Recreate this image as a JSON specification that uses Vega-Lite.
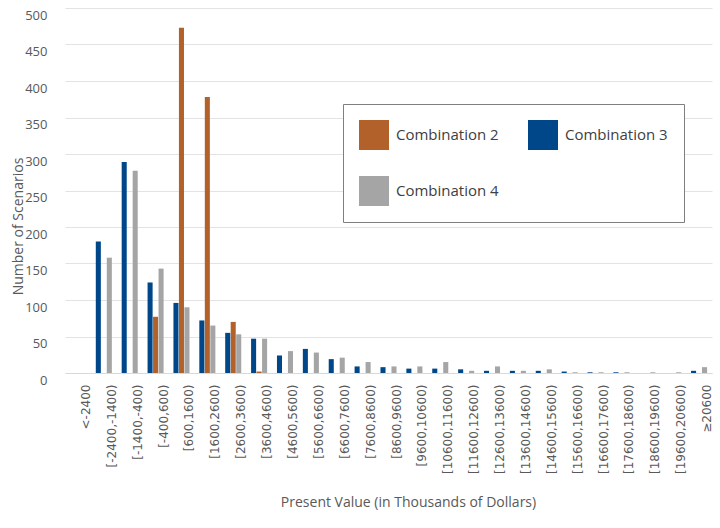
{
  "$schema": "https://vega.github.io/schema/vega-lite/v6.json",
  "width": 647,
  "height": 365,
  "autosize": "none",
  "padding": {"left": 65, "top": 8, "right": 8, "bottom": 155},
  "background": "white",
  "config": {"view": {"stroke": null}},
  "datasets": {
    "counts": [
      {"bin": "<-2400", "combo": "Combination 2", "count": 0},
      {"bin": "<-2400", "combo": "Combination 3", "count": 0},
      {"bin": "<-2400", "combo": "Combination 4", "count": 0},
      {"bin": "[-2400,-1400)", "combo": "Combination 2", "count": 0},
      {"bin": "[-2400,-1400)", "combo": "Combination 3", "count": 180},
      {"bin": "[-2400,-1400)", "combo": "Combination 4", "count": 158},
      {"bin": "[-1400,-400)", "combo": "Combination 2", "count": 0},
      {"bin": "[-1400,-400)", "combo": "Combination 3", "count": 289},
      {"bin": "[-1400,-400)", "combo": "Combination 4", "count": 277},
      {"bin": "[-400,600)", "combo": "Combination 2", "count": 77},
      {"bin": "[-400,600)", "combo": "Combination 3", "count": 124},
      {"bin": "[-400,600)", "combo": "Combination 4", "count": 143},
      {"bin": "[600,1600)", "combo": "Combination 2", "count": 473},
      {"bin": "[600,1600)", "combo": "Combination 3", "count": 96},
      {"bin": "[600,1600)", "combo": "Combination 4", "count": 90},
      {"bin": "[1600,2600)", "combo": "Combination 2", "count": 378},
      {"bin": "[1600,2600)", "combo": "Combination 3", "count": 72},
      {"bin": "[1600,2600)", "combo": "Combination 4", "count": 65},
      {"bin": "[2600,3600)", "combo": "Combination 2", "count": 70},
      {"bin": "[2600,3600)", "combo": "Combination 3", "count": 55},
      {"bin": "[2600,3600)", "combo": "Combination 4", "count": 53},
      {"bin": "[3600,4600)", "combo": "Combination 2", "count": 2},
      {"bin": "[3600,4600)", "combo": "Combination 3", "count": 47},
      {"bin": "[3600,4600)", "combo": "Combination 4", "count": 47},
      {"bin": "[4600,5600)", "combo": "Combination 2", "count": 0},
      {"bin": "[4600,5600)", "combo": "Combination 3", "count": 24},
      {"bin": "[4600,5600)", "combo": "Combination 4", "count": 30},
      {"bin": "[5600,6600)", "combo": "Combination 2", "count": 0},
      {"bin": "[5600,6600)", "combo": "Combination 3", "count": 33},
      {"bin": "[5600,6600)", "combo": "Combination 4", "count": 28},
      {"bin": "[6600,7600)", "combo": "Combination 2", "count": 0},
      {"bin": "[6600,7600)", "combo": "Combination 3", "count": 19},
      {"bin": "[6600,7600)", "combo": "Combination 4", "count": 21},
      {"bin": "[7600,8600)", "combo": "Combination 2", "count": 0},
      {"bin": "[7600,8600)", "combo": "Combination 3", "count": 9},
      {"bin": "[7600,8600)", "combo": "Combination 4", "count": 15},
      {"bin": "[8600,9600)", "combo": "Combination 2", "count": 0},
      {"bin": "[8600,9600)", "combo": "Combination 3", "count": 8},
      {"bin": "[8600,9600)", "combo": "Combination 4", "count": 9},
      {"bin": "[9600,10600)", "combo": "Combination 2", "count": 0},
      {"bin": "[9600,10600)", "combo": "Combination 3", "count": 6},
      {"bin": "[9600,10600)", "combo": "Combination 4", "count": 9},
      {"bin": "[10600,11600)", "combo": "Combination 2", "count": 0},
      {"bin": "[10600,11600)", "combo": "Combination 3", "count": 6},
      {"bin": "[10600,11600)", "combo": "Combination 4", "count": 15},
      {"bin": "[11600,12600)", "combo": "Combination 2", "count": 0},
      {"bin": "[11600,12600)", "combo": "Combination 3", "count": 5},
      {"bin": "[11600,12600)", "combo": "Combination 4", "count": 3},
      {"bin": "[12600,13600)", "combo": "Combination 2", "count": 0},
      {"bin": "[12600,13600)", "combo": "Combination 3", "count": 3},
      {"bin": "[12600,13600)", "combo": "Combination 4", "count": 9},
      {"bin": "[13600,14600)", "combo": "Combination 2", "count": 0},
      {"bin": "[13600,14600)", "combo": "Combination 3", "count": 3},
      {"bin": "[13600,14600)", "combo": "Combination 4", "count": 3},
      {"bin": "[14600,15600)", "combo": "Combination 2", "count": 0},
      {"bin": "[14600,15600)", "combo": "Combination 3", "count": 3},
      {"bin": "[14600,15600)", "combo": "Combination 4", "count": 5},
      {"bin": "[15600,16600)", "combo": "Combination 2", "count": 0},
      {"bin": "[15600,16600)", "combo": "Combination 3", "count": 2},
      {"bin": "[15600,16600)", "combo": "Combination 4", "count": 1},
      {"bin": "[16600,17600)", "combo": "Combination 2", "count": 0},
      {"bin": "[16600,17600)", "combo": "Combination 3", "count": 1},
      {"bin": "[16600,17600)", "combo": "Combination 4", "count": 1},
      {"bin": "[17600,18600)", "combo": "Combination 2", "count": 0},
      {"bin": "[17600,18600)", "combo": "Combination 3", "count": 1},
      {"bin": "[17600,18600)", "combo": "Combination 4", "count": 1},
      {"bin": "[18600,19600)", "combo": "Combination 2", "count": 0},
      {"bin": "[18600,19600)", "combo": "Combination 3", "count": 0},
      {"bin": "[18600,19600)", "combo": "Combination 4", "count": 1},
      {"bin": "[19600,20600)", "combo": "Combination 2", "count": 0},
      {"bin": "[19600,20600)", "combo": "Combination 3", "count": 0},
      {"bin": "[19600,20600)", "combo": "Combination 4", "count": 1},
      {"bin": "≥20600", "combo": "Combination 2", "count": 0},
      {"bin": "≥20600", "combo": "Combination 3", "count": 3},
      {"bin": "≥20600", "combo": "Combination 4", "count": 8}
    ]
  },
  "data": {"name": "counts"},
  "mark": {"type": "bar"},
  "encoding": {
    "x": {
      "field": "bin",
      "type": "nominal",
      "sort": ["<-2400", "[-2400,-1400)", "[-1400,-400)", "[-400,600)", "[600,1600)", "[1600,2600)", "[2600,3600)", "[3600,4600)", "[4600,5600)", "[5600,6600)", "[6600,7600)", "[7600,8600)", "[8600,9600)", "[9600,10600)", "[10600,11600)", "[11600,12600)", "[12600,13600)", "[13600,14600)", "[14600,15600)", "[15600,16600)", "[16600,17600)", "[17600,18600)", "[18600,19600)", "[19600,20600)", "≥20600"],
      "scale": {"paddingInner": 0.38, "paddingOuter": 0.19},
      "axis": {
        "title": "Present Value (in Thousands of Dollars)",
        "titleFont": "Open Sans",
        "titleFontSize": 14,
        "titleFontWeight": "normal",
        "titleColor": "#595959",
        "titleX": 343,
        "titleY": 133,
        "titleBaseline": "alphabetic",
        "titleAnchor": "middle",
        "labelAngle": 270,
        "labelFont": "DejaVu Sans",
        "labelFontSize": 12,
        "labelColor": "#595959",
        "labelPadding": 11,
        "labelOffset": 8,
        "ticks": false,
        "tickSize": 0,
        "domain": true,
        "domainColor": "#d9d9d9",
        "domainWidth": 1,
        "grid": false
      }
    },
    "xOffset": {
      "field": "combo",
      "type": "nominal",
      "sort": ["Combination 3", "Combination 2", "Combination 4"],
      "scale": {"paddingInner": 0.08}
    },
    "y": {
      "field": "count",
      "type": "quantitative",
      "scale": {"domain": [0, 500]},
      "axis": {
        "title": "Number of Scenarios",
        "titleFont": "Open Sans",
        "titleFontSize": 14,
        "titleFontWeight": "normal",
        "titleColor": "#595959",
        "titleX": -43,
        "titleY": 218,
        "titleBaseline": "alphabetic",
        "titleAnchor": "middle",
        "values": [0, 50, 100, 150, 200, 250, 300, 350, 400, 450, 500],
        "labelFont": "Open Sans",
        "labelFontSize": 13,
        "labelColor": "#595959",
        "labelPadding": 18,
        "labelOffset": 7,
        "ticks": false,
        "tickSize": 0,
        "domain": false,
        "grid": true,
        "gridColor": "#e3e3e3",
        "gridWidth": 1
      }
    },
    "color": {
      "field": "combo",
      "type": "nominal",
      "scale": {
        "domain": ["Combination 2", "Combination 4", "Combination 3"],
        "range": ["#b3612a", "#a5a5a5", "#00478a"]
      },
      "legend": {
        "title": null,
        "orient": "none",
        "legendX": 278,
        "legendY": 96,
        "columns": 2,
        "columnPadding": 29,
        "rowPadding": 26,
        "symbolType": "square",
        "symbolSize": 900,
        "symbolStrokeWidth": 0,
        "labelFont": "Open Sans",
        "labelFontSize": 15,
        "labelColor": "#404040",
        "labelOffset": 7,
        "padding": 16,
        "strokeColor": "#7f7f7f",
        "fillColor": "white"
      }
    }
  }
}
